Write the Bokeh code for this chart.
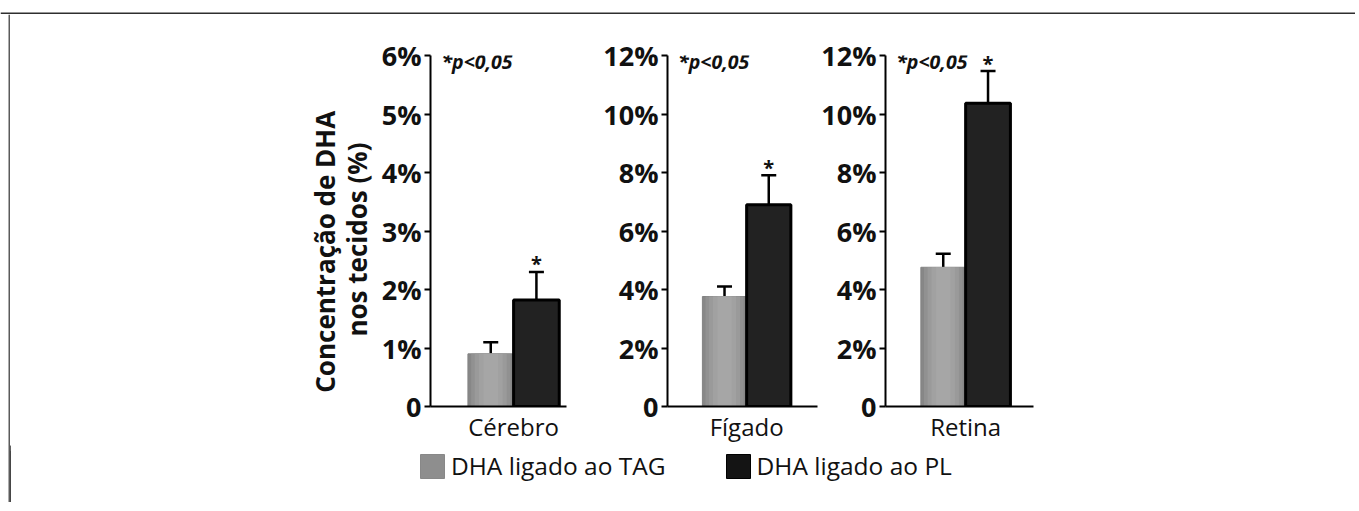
import math
from bokeh.plotting import figure
from bokeh.layouts import column, row
from bokeh.models import (Range1d, FixedTicker, Label, Legend, LegendItem,
                          ColumnDataSource, Whisker, TeeHead, Span)
from bokeh.embed import file_html
from bokeh.resources import INLINE
from bokeh.core.properties import value

# ---------------- data ----------------
tissues = ["Cérebro", "Fígado", "Retina"]
tag_values = [0.90, 3.76, 4.76]
tag_errors = [0.20, 0.34, 0.46]
pl_values = [1.82, 6.90, 10.37]
pl_errors = [0.48, 1.01, 1.10]
axis_max = [6, 12, 12]
axis_step = [1, 2, 2]
series_names = ["DHA ligado ao TAG", "DHA ligado ao PL"]
y_title_lines = ["Concentração de DHA", "nos tecidos (%)"]
significance_note = "*p<0,05"

# ---------------- style / geometry ----------------
FONT = "Open Sans"
# horizontal shading of the grey bars: (relative width, colour), outside -> inside
GRAY_BANDS = [(1.0, "#878787"), (0.86, "#919191"), (0.70, "#9a9a9a"),
              (0.52, "#a1a1a1"), (0.32, "#a6a6a6")]
DARK_FILL = "#222222"
TXT = "#111111"
BAR_PX = 46.0
TOP_B = 41
FRAME_H = 352
BOT_B = 38
PANEL_H = TOP_B + FRAME_H + BOT_B
LEG_H = 57
HEADER_H = 14
LEFT_W = 10
CONTENT_W = 1341

panel_geom = [
    dict(width=222, left=51, frame=137, center=83.7),
    dict(width=218, left=61, frame=156, center=82.3),
    dict(width=533, left=63, frame=152, center=82.3),
]
TITLE_W = 368


def base_fig(**kw):
    return figure(output_backend="svg", toolbar_location=None, **kw)


def blank_fig(width, height, xr, yr):
    f = base_fig(width=width, height=height, x_range=Range1d(*xr), y_range=Range1d(*yr),
                 x_axis_type=None, y_axis_type=None, min_border=0,
                 outline_line_color=None)
    f.grid.visible = False
    return f


# frame lines of the original figure box
header = blank_fig(1355, HEADER_H, (0, 1), (0, HEADER_H))
header.add_layout(Span(location=1, dimension="width", line_color="#2e2e2e", line_width=2))
left_strip = blank_fig(LEFT_W, PANEL_H + LEG_H, (0, LEFT_W), (0, 1))
left_strip.add_layout(Span(location=LEFT_W - 1, dimension="height",
                           line_color="#5a5a5a", line_width=2))

# y title figure
title_fig = blank_fig(TITLE_W, PANEL_H, (0, TITLE_W), (0, PANEL_H))
title_fig.text(x=[314, 346], y=[PANEL_H - (255 - HEADER_H), PANEL_H - (240 - HEADER_H)],
               text=y_title_lines, angle=math.pi / 2, text_align="center",
               text_baseline="middle", text_font=value(FONT),
               text_font_style="bold", text_font_size="26px", text_color=TXT)

panels = []
for i, name in enumerate(tissues):
    g = panel_geom[i]
    x0 = -g["center"] / BAR_PX
    x1 = (g["frame"] - g["center"]) / BAR_PX
    ymax = axis_max[i]
    p = base_fig(width=g["width"], height=PANEL_H,
                 x_range=Range1d(x0, x1), y_range=Range1d(0, ymax),
                 min_border_left=g["left"],
                 min_border_right=g["width"] - g["left"] - g["frame"],
                 min_border_top=TOP_B, min_border_bottom=BOT_B,
                 outline_line_color=None)
    p.grid.visible = False

    src = ColumnDataSource(dict(
        x=[-0.5, 0.5],
        top=[tag_values[i], pl_values[i]],
        upper=[tag_values[i] + tag_errors[i], pl_values[i] + pl_errors[i]],
    ))
    tag_src = ColumnDataSource(dict(x=[-0.5], top=[tag_values[i]]))
    pl_src = ColumnDataSource(dict(x=[0.5], top=[pl_values[i]]))

    for k, (w, c) in enumerate(GRAY_BANDS):
        p.vbar(x="x", top="top", width=w, source=tag_src, fill_color=c,
               line_color="#828282" if k == 0 else None, line_width=1)
    p.vbar(x="x", top="top", width=1.0, source=pl_src, fill_color=DARK_FILL,
           line_color="#000000", line_width=3)

    p.add_layout(Whisker(source=src, base="x", lower="top", upper="upper",
                         dimension="height", line_width=2.5, line_color="#000000",
                         lower_head=None,
                         upper_head=TeeHead(size=15, line_width=2.5,
                                            line_color="#000000")))

    p.add_layout(Label(x=0.5, y=pl_values[i] + pl_errors[i], text="*",
                       text_align="center", text_baseline="alphabetic", y_offset=8,
                       text_font=FONT, text_font_style="bold",
                       text_font_size="20px", text_color=TXT))
    p.add_layout(Label(x=x0 + 11 / BAR_PX, y=ymax, text=significance_note,
                       text_align="left", text_baseline="alphabetic", y_offset=-6,
                       text_font=FONT, text_font_style="bold italic",
                       text_font_size="19.5px", text_color=TXT))

    ticks = list(range(0, ymax + 1, axis_step[i]))
    p.yaxis.ticker = FixedTicker(ticks=ticks)
    p.yaxis.major_label_overrides = {t: (f"{t}%" if t else "0") for t in ticks}
    p.yaxis.minor_tick_line_color = None
    p.yaxis.major_tick_out = 6
    p.yaxis.major_tick_in = 0
    p.yaxis.major_tick_line_width = 2
    p.yaxis.axis_line_width = 2
    p.yaxis.major_label_standoff = 3
    p.yaxis.major_label_text_font = FONT
    p.yaxis.major_label_text_font_style = "bold"
    p.yaxis.major_label_text_font_size = "27px"
    p.yaxis.major_label_text_color = TXT

    p.xaxis.ticker = FixedTicker(ticks=[0])
    p.xaxis.major_label_overrides = {0: name}
    p.xaxis.major_tick_line_color = None
    p.xaxis.minor_tick_line_color = None
    p.xaxis.axis_line_width = 2
    p.xaxis.major_label_standoff = -3
    p.xaxis.major_label_text_font = FONT
    p.xaxis.major_label_text_font_size = "24px"
    p.xaxis.major_label_text_color = TXT
    panels.append(p)

# legend figure (proxy renderers sit outside the visible range)
leg = blank_fig(CONTENT_W, LEG_H, (0, 1), (0, 1))
r_tag = leg.vbar(x=[-5], top=[tag_values[0]], width=1, fill_color="#8e8e8e",
                 line_color="#888888")
r_pl = leg.vbar(x=[-5], top=[pl_values[0]], width=1, fill_color="#141414",
                line_color="#000000")
legend = Legend(items=[LegendItem(label=series_names[0], renderers=[r_tag]),
                       LegendItem(label=series_names[1], renderers=[r_pl])],
                orientation="horizontal", location=(407, 20),
                glyph_width=30, glyph_height=30, label_standoff=4, spacing=57,
                padding=0, margin=0, border_line_color=None,
                background_fill_alpha=0, label_text_font=FONT,
                label_text_font_size="24.5px", label_text_color=TXT)
leg.add_layout(legend)

content = column(row(title_fig, *panels), leg)
layout = column(header, row(left_strip, content))

open("out.html", "w").write(file_html(layout, INLINE))
